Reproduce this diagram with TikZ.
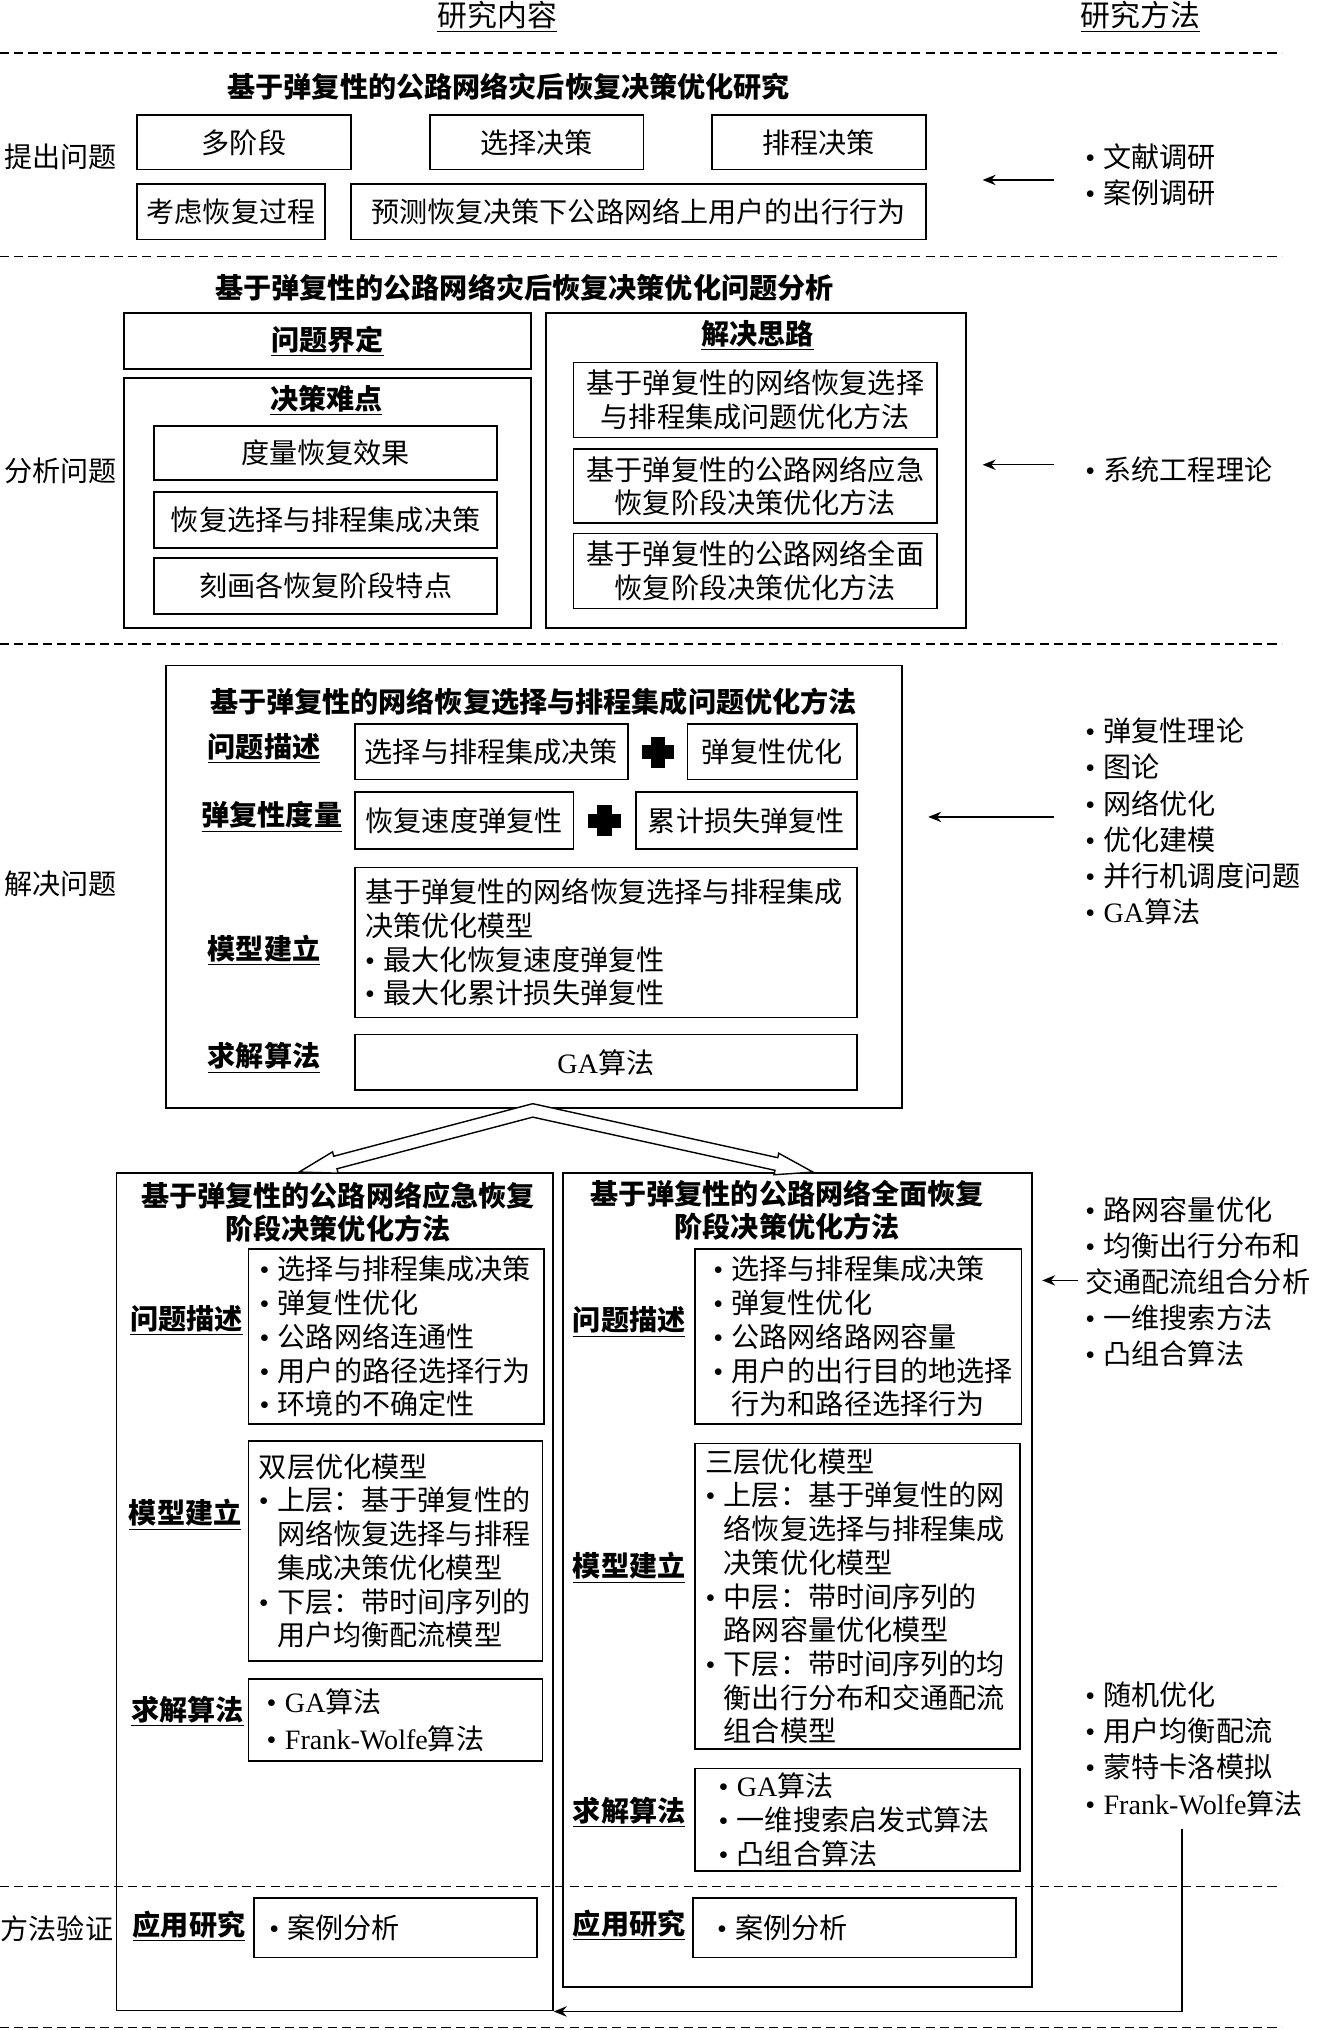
\documentclass[tikz,border=0pt]{standalone}
\usepackage{fontspec}
\setmainfont{Noto Sans CJK SC}
\newfontfamily\latin{Liberation Serif}
\usepackage{tikz}
\usetikzlibrary{arrows.meta,positioning,calc}
\newlength{\pu}
\setlength{\pu}{0.0259cm}
\newcommand{\bul}{{\latin\textbullet}\kern0.3em}
\newcommand{\skipbul}{\hphantom{\bul}}
\newcommand{\ulb}[1]{\underline{\textbf{#1}}}

\begin{document}
\begin{tikzpicture}[
  x=\pu, y=-\pu,
  font=\fontsize{16}{19.2}\selectfont,
  box/.style={draw, line width=1pt, inner sep=0pt, align=center},
  lbox/.style={box, align=left},
  spans/.style n args={4}{minimum width={(#3-#1)*\pu}, minimum height={(#4-#2)*\pu},
    at={({(#1+#3)/2},{(#2+#4)/2})}},
  ttl/.style={font=\fontsize{16}{18.9}\selectfont\bfseries, align=center},
  meth/.style={anchor=west, inner sep=0pt, align=left, font=\fontsize{16}{20.6}\selectfont},
  dline/.style={line width=0.9pt, dash pattern=on 7\pu off 4\pu},
  arr/.style={-{Stealth[length=7.4pt,width=5.9pt]}, line width=0.8pt},
  plussign/.pic={\fill (-12.5,-5.5) rectangle (12.5,5.5); \fill (-5.5,-12) rectangle (5.5,12);}
]
\useasboundingbox (0,0) rectangle (1017,1568);

\node[font=\fontsize{17}{20}\selectfont] (hc) at (384,13) {\underline{研究内容}};
\node[font=\fontsize{17}{20}\selectfont] (hm) at (881,13) {\underline{研究方法}};
\foreach \y in {41,198,497.5,1457,1566}
  \draw[dline] (0,\y) -- (990,\y);

\node[ttl] (t1) at (393,67) {基于弹复性的公路网络灾后恢复决策优化研究};
\node (q1) at (47,121) {提出问题};
\node[box, spans={106}{89}{271}{131}] (b11) {多阶段};
\node[box, spans={332}{89}{497}{131}] (b12) {选择决策};
\node[box, spans={550}{89}{715}{131}] (b13) {排程决策};
\node[box, spans={106}{142}{251}{185}] (b14) {考虑恢复过程};
\node[box, spans={271}{142}{715}{185}] (b15) {预测恢复决策下公路网络上用户的出行行为};

\node[ttl] (t2) at (405,222) {基于弹复性的公路网络灾后恢复决策优化问题分析};
\node (q2) at (47,364) {分析问题};
\node[box, spans={96}{242}{410}{285}] (pdef) {\ulb{问题界定}};
\node[box, spans={96}{292}{410}{485}] (diff) {};
\node (difft) at (252,309) {\ulb{决策难点}};
\node[box, spans={119}{329}{384}{371}] (d1) {度量恢复效果};
\node[box, spans={119}{380}{384}{423}] (d2) {恢复选择与排程集成决策};
\node[box, spans={119}{431}{384}{474}] (d3) {刻画各恢复阶段特点};
\node[box, spans={422}{242}{746}{485}] (idea) {};
\node (ideat) at (585,259) {\ulb{解决思路}};
\node[box, spans={443}{280}{724}{338}] (i1) {基于弹复性的网络恢复选择\\与排程集成问题优化方法};
\node[box, spans={443}{347}{724}{404}] (i2) {基于弹复性的公路网络应急\\恢复阶段决策优化方法};
\node[box, spans={443}{412}{724}{470}] (i3) {基于弹复性的公路网络全面\\恢复阶段决策优化方法};

\node[box, spans={128}{514}{697}{856}] (sel) {};
\node[ttl] (t3) at (412,542) {基于弹复性的网络恢复选择与排程集成问题优化方法};
\node (q3) at (47,683) {解决问题};
\node (l31) at (204,578) {\ulb{问题描述}};
\node[box, spans={274}{559}{485}{602}] (b31) {选择与排程集成决策};
\pic at (508,581) {plussign};
\node[box, spans={531}{559}{662}{602}] (b32) {弹复性优化};
\node (l32) at (210,631) {\ulb{弹复性度量}};
\node[box, spans={274}{612}{443}{656}] (b33) {恢复速度弹复性};
\pic at (467,634) {plussign};
\node[box, spans={491}{612}{662}{656}] (b34) {累计损失弹复性};
\node (l33) at (204,734) {\ulb{模型建立}};
\node[lbox, text width=372\pu, spans={274}{670}{662}{786}] (b35) {基于弹复性的网络恢复选择与排程集成\\决策优化模型\\\bul 最大化恢复速度弹复性\\\bul 最大化累计损失弹复性};
\node (l34) at (204,817) {\ulb{求解算法}};
\node[box, spans={274}{799}{662}{842}] (b36) {{\latin GA}算法};

\node[box, spans={90}{906}{427}{1553}] (emg) {};
\node[box, spans={435}{906}{797}{1535}] (full) {};
\node[ttl] (t4) at (261,936) {基于弹复性的公路网络应急恢复\\阶段决策优化方法};
\node[ttl] (t5) at (608,935) {基于弹复性的公路网络全面恢复\\阶段决策优化方法};

\node (l41) at (144,1020) {\ulb{问题描述}};
\node[lbox, text width=211\pu, spans={192}{965}{420}{1100}] (b41) {\bul 选择与排程集成决策\\\bul 弹复性优化\\\bul 公路网络连通性\\\bul 用户的路径选择行为\\\bul 环境的不确定性};
\node (l42) at (143,1170) {\ulb{模型建立}};
\node[lbox, text width=211\pu, spans={192}{1113}{419}{1283}] (b42) {双层优化模型\\\bul 上层：基于弹复性的\\\skipbul 网络恢复选择与排程\\\skipbul 集成决策优化模型\\\bul 下层：带时间序列的\\\skipbul 用户均衡配流模型};
\node (l43) at (145,1322) {\ulb{求解算法}};
\node[lbox, text width=199\pu, spans={192}{1297}{419}{1360}] (b43) {\bul {\latin GA}算法\\[1.7pt]\bul {\latin Frank-Wolfe}算法};
\node (q4) at (44,1490) {方法验证};
\node (l44) at (146,1488) {\ulb{应用研究}};
\node[lbox, text width=195\pu, spans={196}{1466}{415}{1512}] (b44) {\bul 案例分析};

\node (l51) at (486,1021) {\ulb{问题描述}};
\node[lbox, text width=224\pu, spans={537}{965}{789}{1100}] (b51) {\bul 选择与排程集成决策\\\bul 弹复性优化\\\bul 公路网络路网容量\\\bul 用户的出行目的地选择\\\skipbul 行为和路径选择行为};
\node (l52) at (486,1211) {\ulb{模型建立}};
\node[lbox, text width=235\pu, spans={537}{1115}{788}{1351}] (b52) {三层优化模型\\\bul 上层：基于弹复性的网\\\skipbul 络恢复选择与排程集成\\\skipbul 决策优化模型\\\bul 中层：带时间序列的\\\skipbul 路网容量优化模型\\\bul 下层：带时间序列的均\\\skipbul 衡出行分布和交通配流\\\skipbul 组合模型};
\node (l53) at (486,1400) {\ulb{求解算法}};
\node[lbox, text width=215\pu, spans={537}{1366}{788}{1445}] (b53) {\bul {\latin GA}算法\\\bul 一维搜索启发式算法\\\bul 凸组合算法};
\node (l54) at (486,1487) {\ulb{应用研究}};
\node[lbox, text width=212\pu, spans={535}{1466}{785}{1512}] (b54) {\bul 案例分析};

\node[meth] (m1) at (838,135) {\bul 文献调研\\\bul 案例调研};
\node[meth] (m2) at (838,363) {\bul 系统工程理论};
\node[meth] (m3) at (838,634.5) {\bul 弹复性理论\\\bul 图论\\\bul 网络优化\\\bul 优化建模\\\bul 并行机调度问题\\\bul {\latin GA}算法};
\node[meth] (m4) at (838,990) {\bul 路网容量优化\\\bul 均衡出行分布和\\交通配流组合分析\\\bul 一维搜索方法\\\bul 凸组合算法};
\node[meth] (m5) at (838,1351) {\bul 随机优化\\\bul 用户均衡配流\\\bul 蒙特卡洛模拟\\\bul {\latin Frank-Wolfe}算法};

\coordinate (a1) at (759,139);
\coordinate (a2) at (759,359);
\coordinate (a3) at (717,631);
\coordinate (a4) at (805,989);
\coordinate (fb) at (913,1413);
\draw[arr, shorten <=24\pu] (m1.west |- a1) -- (a1);
\draw[arr, shorten <=24\pu] (m2.west |- a2) -- (a2);
\draw[arr, shorten <=24\pu] (m3.west |- a3) -- (a3);
\draw[arr, shorten <=5\pu] (m4.west |- a4) -- (a4);
\draw[arr] (fb) |- (emg.south east);

\coordinate (apx) at ($(sel.south)+(-1,1)$);
\coordinate (tipl) at ($(emg.north)+(-27.5,0)$);
\coordinate (tipr) at ($(full.north)+(12,0)$);
\coordinate (hbl) at ($(tipl)!29\pu!(apx)$);
\coordinate (hbr) at ($(tipr)!29\pu!(apx)$);
\draw[line width=0.8pt, fill=white]
  ($(apx)+(0,-5.2)$) -- ($(hbl)!5\pu!-90:(tipl)$) -- ($(hbl)!8.5\pu!-90:(tipl)$) -- (tipl)
  -- ($(hbl)!8.5\pu!90:(tipl)$) -- ($(hbl)!5\pu!90:(tipl)$) -- ($(apx)+(0,5.2)$)
  -- ($(hbr)!5\pu!-90:(tipr)$) -- ($(hbr)!8.5\pu!-90:(tipr)$) -- (tipr)
  -- ($(hbr)!8.5\pu!90:(tipr)$) -- ($(hbr)!5\pu!90:(tipr)$) -- cycle;
\end{tikzpicture}
\end{document}
